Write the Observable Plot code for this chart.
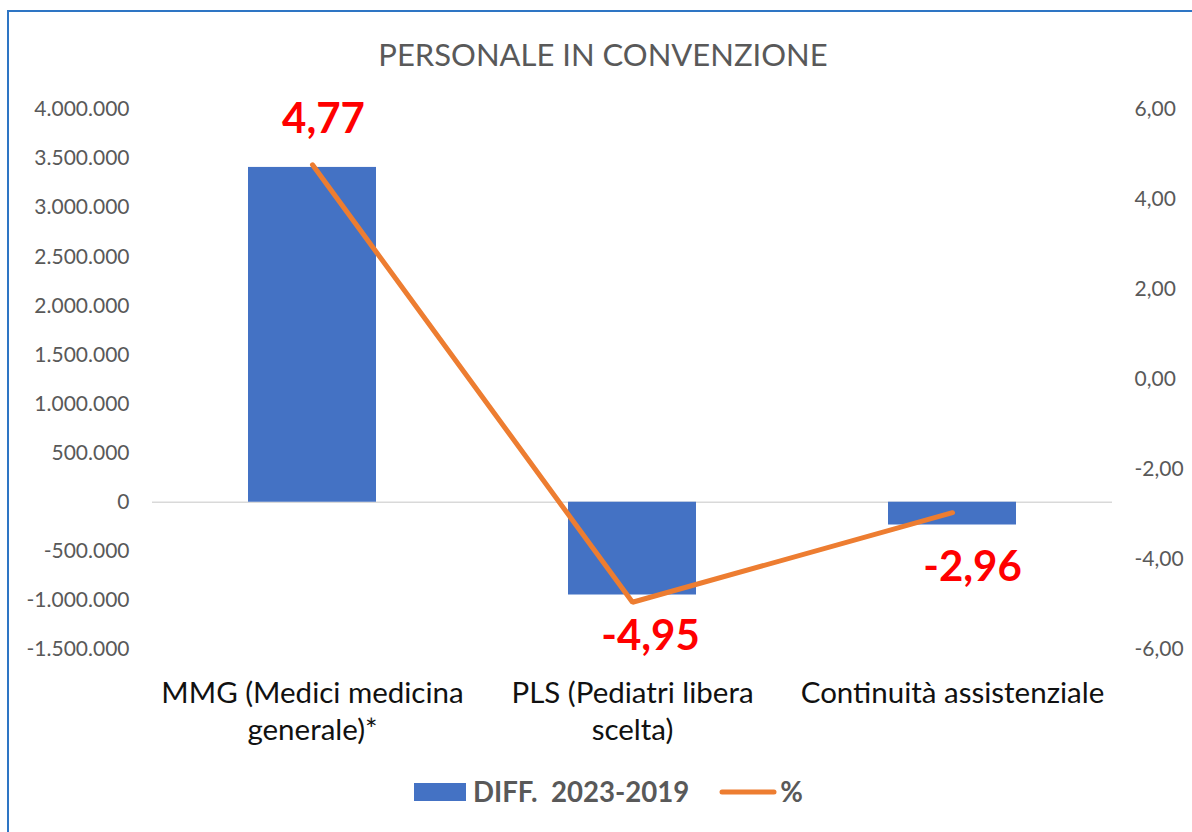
<!DOCTYPE html>
<html>
<head>
<meta charset="utf-8">
<script src="https://cdn.jsdelivr.net/npm/d3@7"></script>
<script src="https://cdn.jsdelivr.net/npm/@observablehq/plot@0.6"></script>
<style>
  html, body { margin: 0; padding: 0; background: #fff; overflow: hidden; }
  #wrap { position: relative; width: 1192px; height: 832px; overflow: hidden; font-family: Lato, "Open Sans", sans-serif; }
  #frame { position: absolute; left: 7px; top: 10px; width: 1200px; height: 900px; border: 2px solid #2E75C4; box-sizing: border-box; }
  #title { position: absolute; left: 0; width: 1206px; top: 35px; text-align: center; font-size: 31px; color: #595959; }
  #chart { position: absolute; left: 0; top: 0; }
  #legend { position: absolute; left: 414px; top: 775px; display: flex; align-items: center; font-size: 27.6px; font-weight: bold; color: #595959; white-space: pre; }
</style>
</head>
<body>
<div id="wrap">
  <div id="frame"></div>
  <div id="chart"></div>
  <div id="title"></div>
  <div id="legend"></div>
</div>
<script>
// ---- data ----
const titleText = "PERSONALE IN CONVENZIONE";
const categories = ["MMG", "PLS", "CA"];
const categoryLabels = ["MMG (Medici medicina\ngenerale)*", "PLS (Pediatri libera\nscelta)", "Continuità assistenziale"];
const diffValues = [3410000, -945000, -232000];
const pctValues = [4.77, -4.95, -2.96];
const leftTicks = [-1500000, -1000000, -500000, 0, 500000, 1000000, 1500000, 2000000, 2500000, 3000000, 3500000, 4000000];
const rightTicks = [-6, -4, -2, 0, 2, 4, 6];
const seriesNames = ["DIFF.  2023-2019", "%"];

// ---- formatting ----
const it = d3.formatLocale({decimal: ",", thousands: ".", grouping: [3], currency: ["€", ""], minus: "-"});
const fmtInt = it.format(",d");
const fmt2 = it.format(".2f");

// secondary axis mapping: pct domain [-6, 6] onto left domain [-1.5M, 4M]
const leftDomain = [-1500000, 4000000];
const rightDomain = [-6, 6];
const toLeft = d3.scaleLinear().domain(rightDomain).range(leftDomain);

const rows = categories.map((c, i) => ({
  cat: c, label: categoryLabels[i], diff: diffValues[i], pct: pctValues[i], pctY: toLeft(pctValues[i])
}));
const labelOf = new Map(rows.map(r => [r.cat, r.label]));

const blue = "#4472C4", orange = "#ED7D31", red = "#FF0000";
const labelFont = {fill: red, fontWeight: "bold", fontSize: 42, fontFamily: "Lato, sans-serif"};

const chart = Plot.plot({
  width: 1192,
  height: 832,
  marginTop: 109,
  marginBottom: 183,
  marginLeft: 152,
  marginRight: 80,
  style: {fontFamily: "Lato, sans-serif", background: "transparent", overflow: "visible"},
  x: {domain: categories, paddingInner: 0.6, paddingOuter: 0.3, axis: null},
  y: {domain: leftDomain, axis: null},
  marks: [
    Plot.ruleY([0], {stroke: "#D9D9D9", strokeWidth: 1.5}),
    Plot.barY(rows, {x: "cat", y: "diff", fill: blue}),
    Plot.axisY(leftTicks, {anchor: "left", tickSize: 0, tickPadding: 23, tickFormat: d => fmtInt(d), fontSize: 21, fill: "#595959", label: null}),
    Plot.axisY(rightTicks.map(toLeft), {anchor: "right", tickSize: 0, tickPadding: 22, tickFormat: d => fmt2(toLeft.invert(d)), fontSize: 21, fill: "#595959", textAnchor: "start", label: null}),
    Plot.axisX({anchor: "bottom", tickSize: 0, tickPadding: 27, tickFormat: d => labelOf.get(d), fontSize: 29.5, fill: "#111", lineHeight: 1.25, lineAnchor: "top", label: null}),
    Plot.lineY(rows, {x: "cat", y: "pctY", stroke: orange, strokeWidth: 5, strokeLinecap: "round", strokeLinejoin: "miter"}),
    Plot.text(rows.slice(0, 1), {x: "cat", y: "pctY", text: d => fmt2(d.pct), dx: 11, dy: -45, ...labelFont}),
    Plot.text(rows.slice(1, 2), {x: "cat", y: "pctY", text: d => fmt2(d.pct), dx: 18, dy: 34, ...labelFont}),
    Plot.text(rows.slice(2, 3), {x: "cat", y: "pctY", text: d => fmt2(d.pct), dx: 20, dy: 55, ...labelFont})
  ]
});
document.getElementById("chart").appendChild(chart);
document.getElementById("title").textContent = titleText;

// legend
const legend = document.getElementById("legend");
legend.innerHTML =
  `<svg width="52" height="18" style="margin-right:7px"><rect width="52" height="18" fill="${blue}"/></svg>` +
  `<span>${seriesNames[0]}</span>` +
  `<svg width="58" height="8" style="margin-left:30px;margin-right:3px"><line x1="3" x2="55" y1="4" y2="4" stroke="${orange}" stroke-width="5" stroke-linecap="round"/></svg>` +
  `<span>${seriesNames[1]}</span>`;
</script>
</body>
</html>
